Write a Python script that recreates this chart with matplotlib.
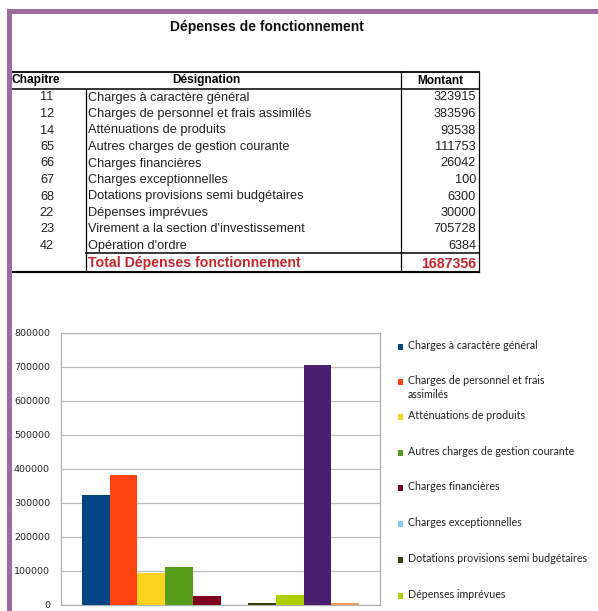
import matplotlib
matplotlib.use("Agg")
import matplotlib.pyplot as plt
from matplotlib.patches import Rectangle
from matplotlib.lines import Line2D

# ---------------- data ----------------
title = "Dépenses de fonctionnement"
chapitres = ["11", "12", "14", "65", "66", "67", "68", "22", "23", "42"]
designations = [
    "Charges à caractère général",
    "Charges de personnel et frais assimilés",
    "Atténuations de produits",
    "Autres charges de gestion courante",
    "Charges financières",
    "Charges exceptionnelles",
    "Dotations provisions semi budgétaires",
    "Dépenses imprévues",
    "Virement a la section d'investissement",
    "Opération d'ordre",
]
montants = [323915, 383596, 93538, 111753, 26042, 100, 6300, 30000, 705728, 6384]
total_label = "Total Dépenses fonctionnement"
total_value = 1687356
legend_labels = [
    "Charges à caractère général",
    "Charges de personnel et frais\nassimilés",
    "Atténuations de produits",
    "Autres charges de gestion courante",
    "Charges financières",
    "Charges exceptionnelles",
    "Dotations provisions semi budgétaires",
    "Dépenses imprévues",
    "Virement a la section d'investissement",
    "Opération d'ordre",
]
y_ticks = [0, 100000, 200000, 300000, 400000, 500000, 600000, 700000, 800000]

colors = ["#004586", "#ff420e", "#ffd320", "#579d1c", "#7e0021",
          "#83caff", "#314004", "#aecf00", "#4b1f6f", "#eea05a"]

W, H = 598, 611
fig = plt.figure(figsize=(W / 100, H / 100), dpi=100)
fig.patch.set_facecolor("white")

# overlay in pixel coordinates
ov = fig.add_axes([0, 0, 1, 1])
ov.set_xlim(0, W)
ov.set_ylim(H, 0)
ov.axis("off")

purple = "#9c6ba0"
ov.add_patch(Rectangle((7, 9), W - 7, 5, color=purple, lw=0, zorder=5))
ov.add_patch(Rectangle((7, 9), 5, H - 9, color=purple, lw=0, zorder=5))

tf = "Liberation Sans"
ov.text(267, 27, title, ha="center", va="center", fontsize=10, fontweight="bold",
        family=tf, color="#111111")

# table lines
def hline(y, x0, x1, lw=1.0):
    ov.add_line(Line2D([x0, x1], [y, y], color="black", lw=lw))

def vline(x, y0, y1, lw=0.9):
    ov.add_line(Line2D([x, x], [y0, y1], color="black", lw=lw))

hline(72, 10, 479, 1.3)
hline(89, 10, 479, 1.1)
hline(253, 86, 479, 1.1)
hline(272, 10, 479, 1.5)
vline(86, 89, 272)
vline(401, 72, 272)
vline(479, 72, 272)

ov.text(12, 80.5, "Chapitre", ha="left", va="center", fontsize=8.6, fontweight="bold", family=tf)
ov.text(206, 80.5, "Désignation", ha="center", va="center", fontsize=8.6, fontweight="bold", family=tf)
ov.text(440, 80.5, "Montant", ha="center", va="center", fontsize=8.6, fontweight="bold", family=tf)

row_y0 = 97.5
row_h = 16.5
fs_row = 9.2
for i, (c, d, m) in enumerate(zip(chapitres, designations, montants)):
    y = row_y0 + i * row_h
    ov.text(47, y, c, ha="center", va="center", fontsize=fs_row, family=tf, color="#222222")
    ov.text(88, y, d, ha="left", va="center", fontsize=fs_row, family=tf, color="#222222")
    ov.text(476, y, str(m), ha="right", va="center", fontsize=fs_row, family=tf, color="#222222")

red = "#c0282e"
ty = row_y0 + len(chapitres) * row_h + 1
ov.text(88, ty, total_label, ha="left", va="center", fontsize=10.2, fontweight="bold", family=tf, color=red)
ov.text(476, ty, str(total_value), ha="right", va="center", fontsize=10.2, fontweight="bold", family=tf, color=red)

# ---------------- chart ----------------
L, R, T, B = 61, 380, 333, 605
ax = fig.add_axes([L / W, (H - B) / H, (R - L) / W, (B - T) / H])
ax.set_xlim(0, 1)
ax.set_ylim(0, 800000)
n = len(montants)
g0 = (82 - L) / (R - L)
g1 = (359 - L) / (R - L)
bw = (g1 - g0) / n
xs = [g0 + bw * (i + 0.5) for i in range(n)]
ax.bar(xs, montants, width=bw, color=colors, linewidth=0, zorder=3)
ax.set_yticks(y_ticks)
ax.set_yticklabels([str(v) for v in y_ticks], fontsize=6.8, family="DejaVu Sans", color="#222222")
ax.tick_params(axis="y", length=0, pad=8)
ax.set_xticks([])
ax.grid(axis="y", color="#bdbdbd", lw=0.9, zorder=0)
for s in ax.spines.values():
    s.set_color("#b0b0b0")
    s.set_linewidth(0.9)

# legend (manual, pixel coordinates); entries below the picture edge are not drawn
leg_y = [347, 382, 417, 453, 488, 524, 560, 596, 631, 667]
for lab, col, y in zip(legend_labels, colors, leg_y):
    if y + 6 > H:
        continue
    ov.add_patch(Rectangle((398, y - 2.7), 5.4, 5.4, color=col, lw=0, zorder=6))
    ov.text(408, y - 7, lab, ha="left", va="top", fontsize=7.7, family="Lato",
            color="#222222", linespacing=1.35, zorder=6)

fig.savefig("out.png", dpi=100, facecolor="white")
